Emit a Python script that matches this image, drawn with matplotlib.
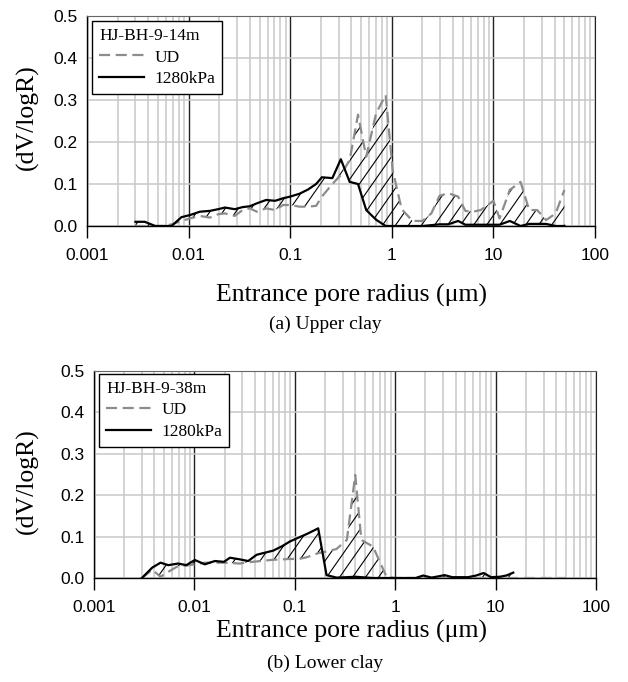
import numpy as np
import matplotlib
matplotlib.use("Agg")
import matplotlib.pyplot as plt
from matplotlib.collections import LineCollection
from matplotlib.path import Path

plt.rcParams['font.family'] = ['Liberation Sans', 'DejaVu Sans']

# ---------------------------------------------------------------------- data
# (a) Upper clay, HJ-BH-9-14m
r_top = [0.003, 0.0037, 0.0047, 0.0058, 0.0068, 0.0085, 0.0103, 0.0129, 0.0162, 0.0195,
         0.0228, 0.0285, 0.034, 0.040, 0.047, 0.058, 0.071, 0.085, 0.100, 0.124,
         0.150, 0.180, 0.205, 0.260, 0.315, 0.385, 0.465, 0.56, 0.70, 0.87,
         1.02, 1.25, 1.6, 2.0, 2.45, 2.95, 3.6, 4.5, 5.3, 6.3,
         7.5, 10.0, 11.5, 14.5, 18.5, 22.5, 27, 33, 41, 50]
ud_top = [0.0, 0.0, 0.0, 0.0, 0.004, 0.012, 0.018, 0.024, 0.020, 0.028,
          0.030, 0.024, 0.038, 0.042, 0.034, 0.042, 0.038, 0.050, 0.050, 0.046,
          0.046, 0.048, 0.070, 0.100, 0.121, 0.157, 0.265, 0.165, 0.268, 0.312,
          0.133, 0.040, 0.012, 0.012, 0.030, 0.072, 0.078, 0.070, 0.036, 0.034,
          0.038, 0.060, 0.018, 0.086, 0.105, 0.038, 0.038, 0.014, 0.030, 0.086]
kpa_top = [0.010, 0.010, 0.0, 0.0, 0.0, 0.021, 0.026, 0.034, 0.036, 0.040,
           0.044, 0.040, 0.045, 0.047, 0.054, 0.062, 0.060, 0.066, 0.070, 0.077,
           0.087, 0.100, 0.116, 0.114, 0.159, 0.105, 0.100, 0.038, 0.015, 0.0,
           0.0, 0.0, 0.0, 0.0, 0.002, 0.004, 0.004, 0.012, 0.003, 0.003,
           0.003, 0.003, 0.003, 0.012, 0.0, 0.005, 0.005, 0.005, 0.0, 0.0]

# (b) Lower clay, HJ-BH-9-38m
r_bot = [0.003, 0.0038, 0.0046, 0.0055, 0.0069, 0.0083, 0.0101, 0.0127, 0.016, 0.0197,
         0.0226, 0.0284, 0.0343, 0.0416, 0.05, 0.0608, 0.075, 0.089, 0.11, 0.131,
         0.15, 0.171, 0.207, 0.26, 0.33, 0.40, 0.46, 0.60, 0.82, 1.0,
         1.3, 1.6, 1.9, 2.3, 2.7, 3.1, 3.7, 4.4, 5.3, 6.4,
         7.6, 9.0, 11, 12.8, 15, 20, 27, 35, 50]
ud_bot = [0.0, 0.020, 0.003, 0.015, 0.029, 0.030, 0.033, 0.037, 0.037, 0.037,
          0.036, 0.035, 0.038, 0.040, 0.042, 0.044, 0.045, 0.046, 0.046, 0.050,
          0.055, 0.060, 0.064, 0.070, 0.092, 0.249, 0.092, 0.076, 0.003, 0.0,
          0.0, 0.0, 0.0, 0.0, 0.0, 0.0, 0.0, 0.0, 0.0, 0.0,
          0.0, 0.0, 0.0, 0.0, 0.0, 0.0, 0.0, 0.0, 0.0]
kpa_bot = [0.0, 0.025, 0.037, 0.031, 0.035, 0.031, 0.0435, 0.033, 0.041, 0.039,
           0.049, 0.045, 0.041, 0.056, 0.061, 0.066, 0.077, 0.088, 0.098, 0.106,
           0.113, 0.120, 0.007, 0.001, 0.002, 0.003, 0.002, 0.0, 0.0, 0.0,
           0.0, 0.0, 0.006, 0.001, 0.004, 0.007, 0.002, 0.002, 0.002, 0.006,
           0.012, 0.002, 0.003, 0.006, 0.013, np.nan, np.nan, np.nan, np.nan]

xticks = [0.001, 0.01, 0.1, 1, 10, 100]
xticklabels = ['0.001', '0.01', '0.1', '1', '10', '100']
yticks = [0.0, 0.1, 0.2, 0.3, 0.4, 0.5]
yticklabels = ['0.0', '0.1', '0.2', '0.3', '0.4', '0.5']

W, H = 628, 682
SERIF = ['Liberation Serif', 'DejaVu Serif']


def add_hatch(ax, fig, coll, spacing=13, angle=55):
    path = Path.make_compound_path(*coll.get_paths())
    bb = ax.get_position()
    w_px = bb.width * fig.get_figwidth() * fig.dpi
    h_px = bb.height * fig.get_figheight() * fig.dpi
    dx = h_px / np.tan(np.radians(angle)) / w_px
    segs = [[(c, 0), (c + dx, 1)] for c in np.arange(-dx, 1.0, spacing / w_px)]
    lc = LineCollection(segs, colors='black', linewidths=0.8, transform=ax.transAxes)
    ax.add_collection(lc, autolim=False)
    lc.set_clip_path(path, ax.transData)


def panel(fig, rect, r, ud, kpa, title, leg_anchor):
    ax = fig.add_axes(rect)
    r = np.array(r)
    ud = np.array(ud)
    kpa = np.array(kpa)
    ok = ~np.isnan(kpa)
    coll = ax.fill_between(r[ok], ud[ok], kpa[ok], facecolor='none', edgecolor='none', lw=0)
    l1, = ax.plot(r, ud, color='#8c8c8c', lw=1.6, linestyle=(0, (5, 2.5)), label='UD', zorder=3)
    l2, = ax.plot(r, kpa, color='black', lw=1.6, label='1280kPa', zorder=4)
    ax.set_xscale('log')
    ax.set_xlim(0.001, 100)
    ax.set_ylim(0, 0.5)
    ax.set_xticks(xticks)
    ax.set_xticklabels(xticklabels)
    ax.xaxis.set_minor_locator(matplotlib.ticker.LogLocator(base=10, subs=np.arange(2, 10)))
    ax.xaxis.set_minor_formatter(matplotlib.ticker.NullFormatter())
    ax.set_yticks(yticks)
    ax.set_yticklabels(yticklabels)
    ax.tick_params(axis='x', which='major', length=8.5, width=1.0, pad=7, labelsize=12.5)
    ax.tick_params(axis='x', which='minor', length=0)
    ax.tick_params(axis='y', which='major', length=0, pad=7, labelsize=12.5)
    ax.set_axisbelow(True)
    ax.grid(which='minor', axis='x', color='#c8c8c8', lw=1.1)
    ax.grid(which='major', axis='y', color='#c8c8c8', lw=1.1)
    ax.grid(which='major', axis='x', color='#222222', lw=1.0)
    for s in ['left', 'bottom']:
        ax.spines[s].set_color('black')
        ax.spines[s].set_linewidth(1.0)
    ax.spines['top'].set_color('#666666')
    ax.spines['right'].set_color('#222222')
    add_hatch(ax, fig, coll)
    leg = ax.legend(handles=[l1, l2], title=title, alignment='left', loc='upper left',
                    bbox_to_anchor=leg_anchor, borderaxespad=0, fancybox=False,
                    framealpha=1, edgecolor='black', prop={'family': SERIF, 'size': 12.5},
                    title_fontproperties={'family': SERIF, 'size': 12.5},
                    handlelength=2.6, handletextpad=0.6, labelspacing=0.3,
                    borderpad=0.4)
    leg.get_frame().set_linewidth(1.0)
    leg.set_zorder(10)
    return ax


fig = plt.figure(figsize=(W / 100, H / 100), dpi=100)

panel(fig, [87 / W, 1 - 226 / H, 508 / W, 210 / H], r_top, ud_top, kpa_top,
      'HJ-BH-9-14m', (0.01, 0.975))
panel(fig, [94 / W, 1 - 578 / H, 502 / W, 207 / H], r_bot, ud_bot, kpa_bot,
      'HJ-BH-9-38m', (0.01, 0.985))

for yc in [117, 481]:
    fig.text(27 / W, 1 - yc / H, '(dV/logR)', rotation=90, ha='center', va='center',
             family=SERIF, size=18.5)
fig.text(352 / W, 1 - 295 / H, 'Entrance pore radius (\u03bcm)', ha='center', va='center',
         family=SERIF, size=18.5)
fig.text(352 / W, 1 - 631 / H, 'Entrance pore radius (\u03bcm)', ha='center', va='center',
         family=SERIF, size=18.5)
fig.text(325 / W, 1 - 324 / H, '(a) Upper clay', ha='center', va='center', family=SERIF, size=14)
fig.text(325 / W, 1 - 663 / H, '(b) Lower clay', ha='center', va='center', family=SERIF, size=14)

fig.savefig('out.png', dpi=100)
